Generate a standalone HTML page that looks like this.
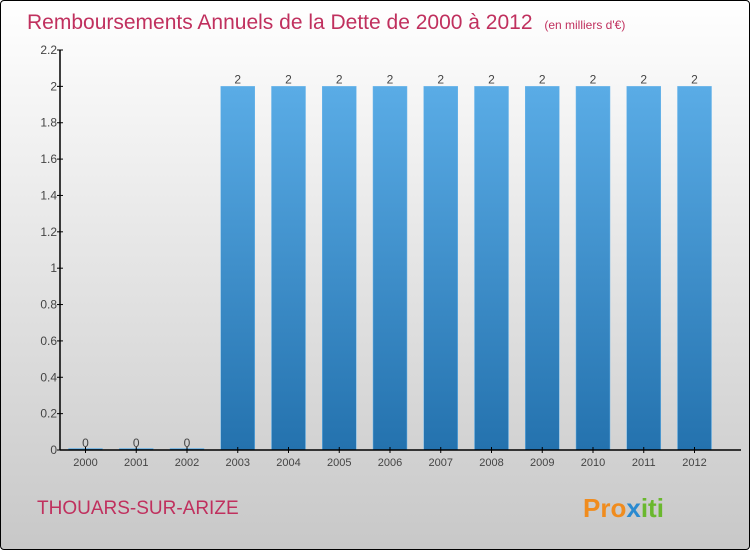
<!DOCTYPE html>
<html><head><meta charset="utf-8"><style>
body{margin:0;}
#c{position:relative;width:748px;height:548px;border:1px solid #000;border-radius:4px;overflow:hidden;background:linear-gradient(#ffffff,#c8c8c8);font-family:"Liberation Sans",sans-serif;}
</style></head><body>
<div id="c">
<svg id="s" width="748" height="548" xmlns="http://www.w3.org/2000/svg">
<defs><linearGradient id="g" x1="0" y1="0" x2="0" y2="1"><stop offset="0" stop-color="#5aace6"/><stop offset="1" stop-color="#2472ae"/></linearGradient></defs>
<text x="26" y="28" font-size="21" fill="#c0305e">Remboursements Annuels de la Dette de 2000 à 2012 <tspan font-size="12" dx="6">(en milliers d'€)</tspan></text>
<text x="36" y="513" font-size="19" fill="#c0305e">THOUARS-SUR-ARIZE</text>
<text x="582" y="516" font-size="26" font-weight="bold" fill="#f08c1e">Pro<tspan fill="#2a8ad0">x</tspan><tspan fill="#6ab82e">iti</tspan></text>
<g id="plot"></g>
</svg></div>
<script>
const categories=["2000","2001","2002","2003","2004","2005","2006","2007","2008","2009","2010","2011","2012"];
const values=[0,0,0,2,2,2,2,2,2,2,2,2,2];
const labels=["0","0","0","2","2","2","2","2","2","2","2","2","2"];
const ticks=[0,0.2,0.4,0.6,0.8,1,1.2,1.4,1.6,1.8,2,2.2];
const tickLabels=["0","0.2","0.4","0.6","0.8","1","1.2","1.4","1.6","1.8","2","2.2"];
const NS="http://www.w3.org/2000/svg";
const p=document.getElementById('plot');
const x0=59,y0=449,yTop=49;
const y=v=>y0-(v/2.2)*(y0-yTop);
const xc=i=>84.5+i*50.75;
function mk(t,a,txt){const e=document.createElementNS(NS,t);for(const k in a)e.setAttribute(k,a[k]);if(txt!==undefined)e.textContent=txt;p.appendChild(e);return e;}
categories.forEach((c,i)=>{
 const h=Math.max(y0-y(values[i]),1.5);
 const r=mk('rect',{x:xc(i)-17,y:y0-h,width:34,height:h,fill:'url(#g)',stroke:'#6fb8ec','stroke-width':0.5});
 
 
 const t=mk('text',{x:xc(i),y:y(values[i])-3,'font-size':12,fill:'#444','text-anchor':'middle'},labels[i]);
 
 
 const xl=mk('text',{x:xc(i),y:y0+16,'font-size':11,fill:'#444','text-anchor':'middle'},c);
 
 
 mk('line',{x1:xc(i),x2:xc(i),y1:y0-3,y2:y0+3,stroke:'#000'});
});
ticks.forEach((v,i)=>{
 mk('line',{x1:x0-3,x2:x0+3,y1:y(v),y2:y(v),stroke:'#000'});
 const t=mk('text',{x:x0-3,y:y(v)+4,'font-size':12,fill:'#444','text-anchor':'end'},tickLabels[i]);
 
 
});
const ya=mk('line',{x1:x0,x2:x0,y1:yTop,y2:y0,stroke:'#000','stroke-width':1.5});


const xa=mk('line',{x1:x0,x2:740,y1:y0,y2:y0,stroke:'#000','stroke-width':1.5});


</script>
</body></html>
